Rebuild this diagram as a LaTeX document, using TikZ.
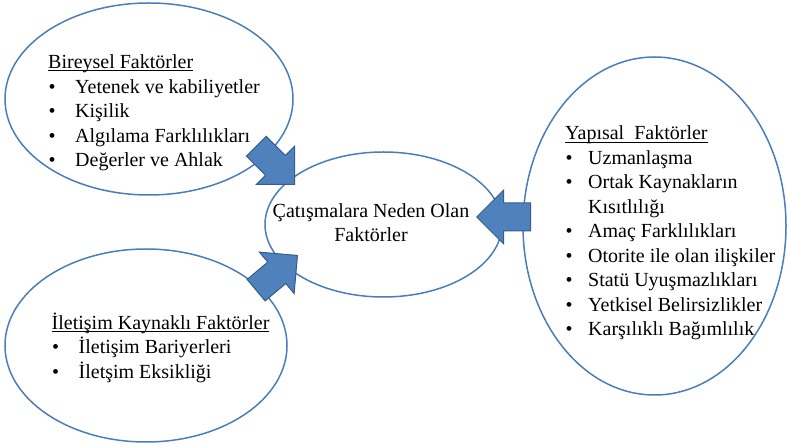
\documentclass[tikz,border=0pt]{standalone}
\usepackage{fontspec}
\setmainfont{Liberation Serif}
\usepackage{tikz}
\usetikzlibrary{shapes.geometric,shapes.arrows,positioning}
\definecolor{ringblue}{HTML}{4A7EBB}
\definecolor{arrowfill}{HTML}{4F81BD}
\definecolor{arrowline}{HTML}{385D8A}
\newcommand{\hdr}[1]{\sbox0{#1}\rlap{\rule[-2.5pt]{\wd0}{0.8pt}}\usebox0}
\newcommand{\itm}[1][27pt]{\makebox[#1][l]{\hspace{0.5pt}\textbullet}}
\tikzset{
    ring/.style={
           ellipse,
           draw=ringblue, line width=1.5pt,
           inner sep=0pt,
           },
    txt/.style={
           inner sep=0pt,
           font=\fontsize{20}{24.45}\selectfont,
           },
    blockarrow/.style={
           single arrow,
           draw=arrowline, fill=arrowfill, line width=1pt,
           inner sep=13.5pt,
           minimum height=54pt,
           single arrow head extend=13pt,
           single arrow tip angle=90,
           },
}

\begin{document}
\begin{tikzpicture}[x=1pt,y=1pt]
    \useasboundingbox (0,0) rectangle (787,447);
    % the four ellipses
    \node[ring, minimum width=288pt, minimum height=192pt] (A) at (149,348) {};
    \node[ring, minimum width=282pt, minimum height=193pt] (B) at (146,101.5) {};
    \node[ring, minimum width=237pt, minimum height=145pt] (C) at (383.5,222.5) {};
    \node[ring, minimum width=263pt, minimum height=338pt] (D) at (654.5,221) {};

    % texts (base = last line)
    \node[txt, anchor=base west, align=left] (At) at ([shift={(-101,-67.5)}]A.center)
        {\hdr{Bireysel Faktörler}\\
         \itm Yetenek ve kabiliyetler\\
         \itm Kişilik\\
         \itm Algılama Farklılıkları\\
         \itm Değerler ve Ahlak};
    \node[txt, anchor=base west, align=left] (Bt) at ([shift={(-94.5,-32.8)}]B.center)
        {\hdr{İletişim Kaynaklı Faktörler}\\
         \itm İletişim Bariyerleri\\
         \itm İletşim Eksikliği};
    \node[txt, anchor=base, align=center] (Ct) at ([shift={(-12.5,-17.2)}]C.center)
        {Çatışmalara Neden Olan\\Faktörler};
    \node[txt, anchor=base west, align=left] (Dt) at ([shift={(-89.5,-109.6)}]D.center)
        {\hdr{Yapısal~ Faktörler}\\
         \itm[23pt]Uzmanlaşma\\
         \itm[23pt]Ortak Kaynakların\\
         \hspace{23pt}Kısıtlılığı\\
         \itm[23pt]Amaç Farklılıkları\\
         \itm[23pt]Otorite ile olan ilişkiler\\
         \itm[23pt]Statü Uyuşmazlıkları\\
         \itm[23pt]Yetkisel Belirsizlikler\\
         \itm[23pt]Karşılıklı Bağımlılık};

    % block arrows into the centre
    \node[blockarrow, rotate=-45, anchor=tip] (AC) at ([shift={(-88.5,39.5)}]C.center) {};
    \node[blockarrow, rotate=40, anchor=tip] (BC) at ([shift={(-85.5,-30.5)}]C.center) {};
    \node[blockarrow, rotate=180, anchor=tip] (DC) at ([shift={(92.5,7.5)}]C.center) {};
\end{tikzpicture}
\end{document}
